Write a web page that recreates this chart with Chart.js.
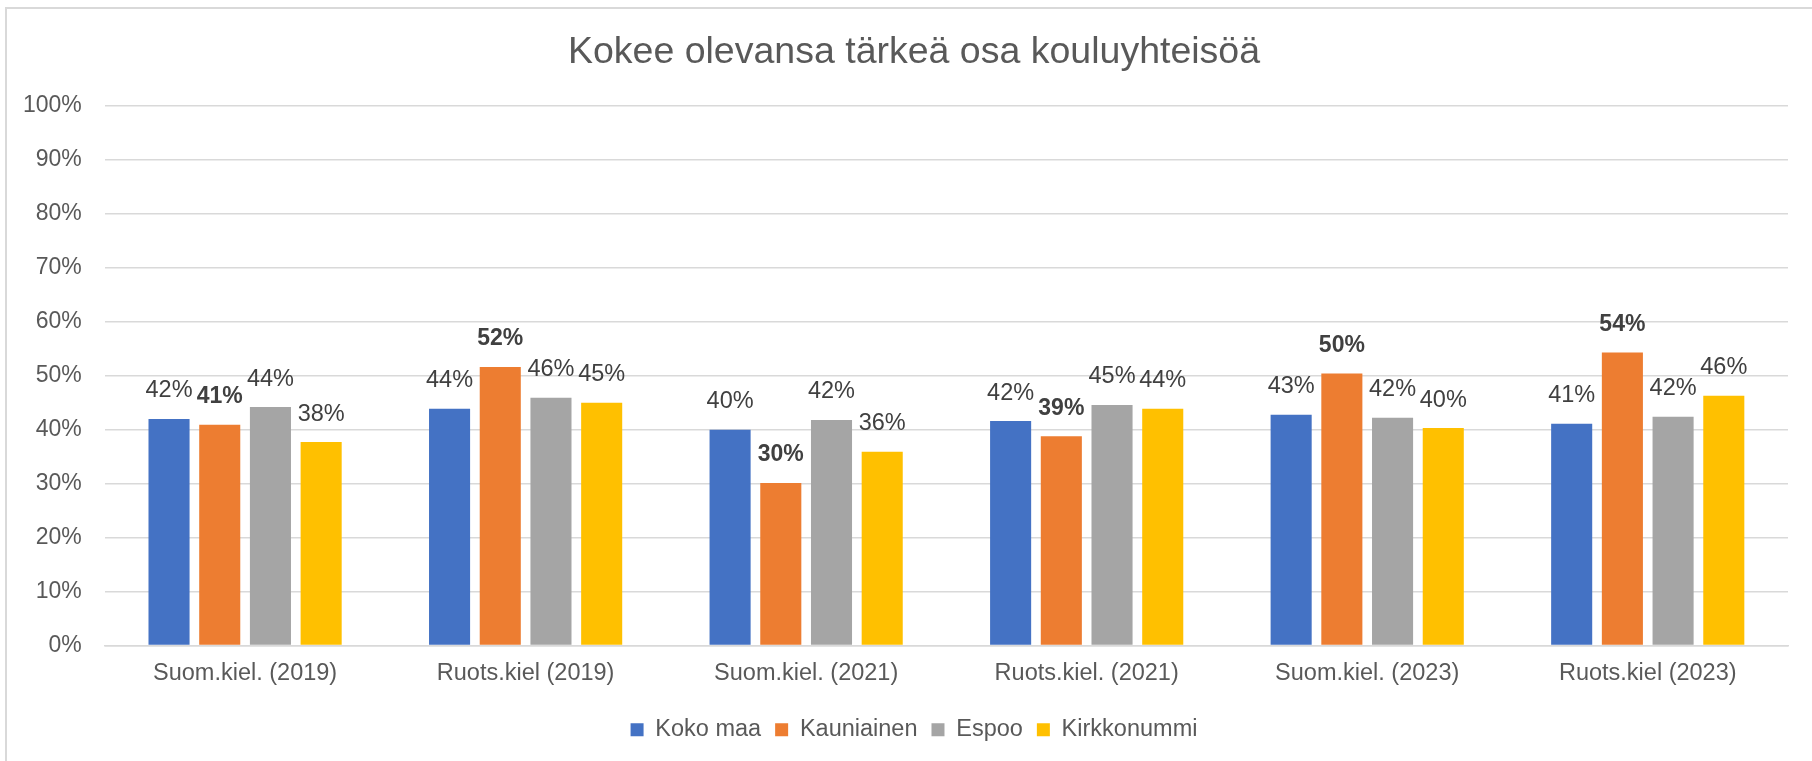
<!DOCTYPE html>
<html>
<head>
<meta charset="utf-8">
<script src="https://cdn.jsdelivr.net/npm/chart.js@4.4.1/dist/chart.umd.min.js"></script>
<style>
  html, body { margin: 0; padding: 0; background: #ffffff; overflow: hidden; }
  #wrap { position: relative; width: 1812px; height: 761px; }
</style>
</head>
<body>
<div id="wrap"><canvas id="kuvio"></canvas></div>
<script>
// Data (prosentteina)
const kategoriat = [
    'Suom.kiel. (2019)', 'Ruots.kiel (2019)', 'Suom.kiel. (2021)',
    'Ruots.kiel. (2021)', 'Suom.kiel. (2023)', 'Ruots.kiel (2023)'
];
const kokoMaa     = [42.0, 43.9, 40.0, 41.6, 42.75, 41.1];
const kauniainen  = [40.9, 51.6, 30.1, 38.8, 50.4, 54.3];
const espoo       = [44.2, 45.9, 41.8, 44.6, 42.2, 42.4];
const kirkkonummi = [37.7, 45.0, 35.9, 43.9, 40.3, 46.3];
const yTicks = [0, 10, 20, 30, 40, 50, 60, 70, 80, 90, 100];

const FONT = '"Liberation Sans", Arial, sans-serif';

// Arvolaput pylväiden yläpuolelle (Kauniainen lihavoituna)
const arvoLaput = {
    id: 'arvoLaput',
    afterDatasetsDraw(chart) {
        const ctx = chart.ctx;
        ctx.save();
        ctx.textAlign = 'center';
        ctx.textBaseline = 'middle';
        chart.data.datasets.forEach((ds, i) => {
            const meta = chart.getDatasetMeta(i);
            ctx.font = (i === 1 ? 'bold 23px ' : '23.5px ') + FONT;
            ctx.fillStyle = '#404040';
            meta.data.forEach((bar, j) => {
                ctx.fillText(Math.round(ds.data[j]) + '%', bar.x, bar.y - 28);
            });
        });
        ctx.restore();
    }
};

// Otsikko ja selite keskitetään hieman oikealle (alkuperäinen kaavio on rajattu oikealta)
const keskitys = {
    id: 'keskitys',
    afterLayout(chart) {
        if (chart.titleBlock) chart.titleBlock.left = 40;
        if (chart.legend) chart.legend.left = 40;
    }
};

// Kaavioalueen reunaviiva
const reunus = {
    id: 'reunus',
    beforeDraw(chart) {
        const ctx = chart.ctx;
        ctx.save();
        ctx.strokeStyle = '#d9d9d9';
        ctx.lineWidth = 2;
        ctx.beginPath();
        ctx.moveTo(6, chart.height + 2);
        ctx.lineTo(6, 8);
        ctx.lineTo(chart.width + 2, 8);
        ctx.stroke();
        ctx.restore();
    }
};

new Chart(document.getElementById('kuvio'), {
    type: 'bar',
    data: {
        labels: kategoriat,
        datasets: [
            { label: 'Koko maa', data: kokoMaa, backgroundColor: '#4472C4' },
            { label: 'Kauniainen', data: kauniainen, backgroundColor: '#ED7D31' },
            { label: 'Espoo', data: espoo, backgroundColor: '#A5A5A5' },
            { label: 'Kirkkonummi', data: kirkkonummi, backgroundColor: '#FFC000' }
        ]
    },
    options: {
        responsive: true,
        maintainAspectRatio: false,
        animation: false,
        categoryPercentage: 0.723,
        barPercentage: 0.81,
        layout: { padding: { left: 0, right: 24, top: 0, bottom: 9.5 } },
        plugins: {
            title: {
                display: true,
                text: 'Kokee olevansa tärkeä osa kouluyhteisöä',
                color: '#595959',
                font: { family: FONT, size: 37.5, weight: 'normal' },
                padding: { top: 30, bottom: 31 }
            },
            legend: {
                position: 'bottom',
                labels: {
                    boxWidth: 13,
                    boxHeight: 13,
                    padding: 14,
                    color: '#595959',
                    font: { family: FONT, size: 23.5 }
                }
            },
            tooltip: { enabled: false }
        },
        scales: {
            x: {
                grid: { display: false, drawTicks: false },
                border: { color: '#d9d9d9', width: 1.5 },
                ticks: { color: '#595959', padding: 13.5, font: { family: FONT, size: 23.5 } },
                afterFit(scale) { scale.height = 58.5; }
            },
            y: {
                min: 0,
                max: 100,
                afterBuildTicks(scale) { scale.ticks = yTicks.map(v => ({ value: v })); },
                grid: { color: '#d9d9d9', lineWidth: 1.5, drawTicks: false },
                border: { display: false },
                ticks: {
                    color: '#595959',
                    padding: 23,
                    font: { family: FONT, size: 23 },
                    callback: v => v + '%'
                }
            }
        }
    },
    plugins: [arvoLaput, keskitys, reunus]
});
</script>
</body>
</html>
